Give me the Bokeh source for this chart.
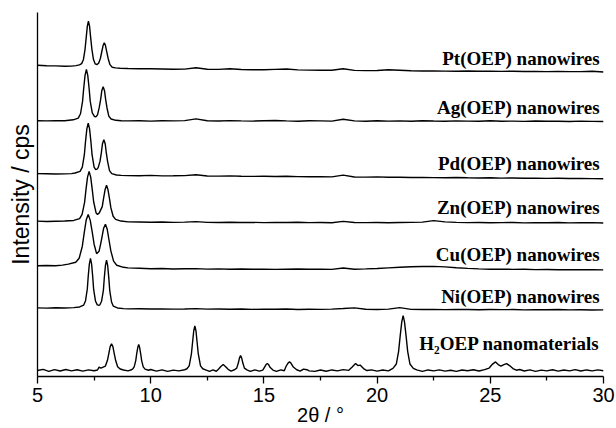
from bokeh.plotting import figure
from bokeh.models import Range1d, FixedTicker, ColumnDataSource, Label
from bokeh.embed import file_html
from bokeh.resources import INLINE

# ---------------- data ----------------
LABELS = ["Pt(OEP) nanowires", "Ag(OEP) nanowires", "Pd(OEP) nanowires",
          "Zn(OEP) nanowires", "Cu(OEP) nanowires", "Ni(OEP) nanowires",
          "H\u2082OEP nanomaterials"]

# vertical stacking offsets of each pattern (intensity units)
OFFSETS = [311, 257, 202, 156, 110, 68, 6]

# common 2θ grid for the flat part of the nanowire patterns
TAIL_X = [9.5, 10.0, 10.5, 11.0, 11.5, 12.0, 12.5, 13.0, 13.5, 14.0, 14.5,
          15.0, 15.5, 16.0, 16.5, 17.0, 17.5, 18.0, 18.5, 19.0, 19.5, 20.0,
          20.5, 21.0, 21.5, 22.0, 22.5, 23.0, 23.5, 24.0, 24.5, 25.0, 25.5,
          26.0, 26.5, 27.0, 27.5, 28.0, 28.5, 29.0, 29.5, 30.0]

PT_X = [5.0, 5.4, 5.8, 6.2, 6.5, 6.7, 6.85, 6.95, 7.03, 7.1, 7.15, 7.2, 7.25,
        7.3, 7.35, 7.4, 7.47, 7.55, 7.62, 7.7, 7.78, 7.85, 7.9, 7.95, 8.0,
        8.05, 8.12, 8.2, 8.3, 8.45, 8.65, 9.0]
PT_Y = [2.0, 1.5, 1.3, 0.9, 1.1, 1.6, 2.3, 3.6, 7.8, 18.0, 29.5, 41.0, 46.3,
        41.0, 29.5, 18.5, 8.0, 3.3, 2.6, 4.0, 9.0, 16.8, 22.0, 24.5, 22.0,
        16.5, 8.8, 2.6, 0.0, -0.7, -1.1, -1.3]
PT_TAIL = [-1.5, -1.6, -1.8, -2.0, -1.9, -0.6, -2.0, -2.2, -1.6, -2.3, -2.5,
           -2.6, -2.2, -1.8, -2.7, -2.9, -3.0, -3.0, -1.6, -3.2, -3.4, -3.3,
           -2.6, -3.0, -3.6, -3.8, -3.7, -3.9, -4.0, -3.8, -4.1, -4.0, -4.2,
           -4.1, -4.3, -4.2, -4.4, -4.3, -4.5, -4.4, -4.0, -4.8]

AG_X = [5.0, 5.4, 5.8, 6.2, 6.58, 6.8, 6.9, 6.99, 7.04, 7.1, 7.16, 7.22, 7.28,
        7.33, 7.42, 7.52, 7.58, 7.65, 7.73, 7.79, 7.84, 7.9, 7.96, 8.01, 8.07,
        8.15, 8.25, 8.46, 8.7, 9.0]
AG_Y = [0.2, 0.0, 0.3, 0.2, 1.1, 2.8, 7.2, 19.6, 32.6, 45.8, 51.7, 45.8, 32.6,
        19.6, 8.0, 4.3, 4.2, 6.1, 13.8, 21.6, 30.4, 34.3, 30.4, 21.6, 13.0,
        4.8, 1.9, 0.6, 0.2, 0.0]
AG_TAIL = [0.1, -0.2, 0.2, 0.0, 0.3, 2.0, 0.2, -0.1, 0.3, 0.0, -0.2, 0.1, 0.4,
           0.0, -0.3, 0.1, 0.0, -0.2, 1.7, 0.0, -0.3, 0.1, -0.2, 0.0, -0.4,
           0.2, -0.1, -0.3, 0.0, -0.2, -0.4, 0.1, -0.3, -0.2, -0.5, -0.1,
           -0.4, -0.3, -0.6, -0.2, -0.5, -0.6]

PD_X = [5.0, 5.4, 5.8, 6.2, 6.5, 6.66, 6.88, 6.98, 7.07, 7.12, 7.18, 7.24, 7.3,
        7.36, 7.41, 7.5, 7.57, 7.63, 7.68, 7.76, 7.82, 7.87, 7.93, 7.99, 8.04,
        8.1, 8.18, 8.28, 8.49, 8.7, 9.0]
PD_Y = [2.0, 1.8, 1.6, 1.7, 2.0, 2.6, 4.3, 8.6, 21.0, 34.0, 47.0, 52.7, 47.0,
        34.0, 21.0, 8.5, 6.0, 6.5, 8.0, 14.3, 22.9, 32.0, 36.0, 32.0, 22.7,
        13.7, 5.0, 2.0, 0.6, 0.2, 0.0]
PD_TAIL = [-0.1, 0.2, -0.3, -0.2, 0.0, 0.8, -0.4, -0.5, -0.3, -0.6, -0.8,
           -0.6, -0.9, -0.7, -1.0, -1.2, -1.1, -1.3, 0.5, -1.4, -1.5, -1.3,
           -1.7, -1.6, -1.9, -1.8, -2.0, -2.1, -1.9, -2.2, -2.4, -2.2, -2.5,
           -2.4, -2.6, -2.5, -2.8, -2.7, -2.9, -2.8, -3.0, -3.1]

ZN_X = [5.0, 5.4, 5.8, 6.2, 6.6, 6.86, 6.97, 7.08, 7.14, 7.21, 7.28, 7.35,
        7.42, 7.48, 7.59, 7.65, 7.73, 7.86, 7.92, 7.99, 8.05, 8.11, 8.18, 8.24,
        8.34, 8.45, 8.69, 9.0]
ZN_Y = [0.2, -0.2, 0.1, 0.3, 0.9, 2.8, 7.0, 19.1, 31.7, 44.5, 50.3, 44.5, 31.7,
        19.7, 8.3, 7.0, 8.5, 14.8, 23.3, 32.3, 36.3, 32.1, 22.9, 13.8, 5.1,
        2.0, 0.3, -0.5]
ZN_TAIL = [-0.7, -0.9, -0.6, -1.0, -0.8, -0.3, -1.0, -1.1, -0.9, -1.2, -1.0,
           -1.3, -1.1, -1.2, -0.9, -1.3, -1.2, -1.4, 0.0, -1.2, -1.3, -1.1,
           -1.4, -1.2, -1.0, -0.8, 0.7, -0.5, -1.0, -1.3, -1.2, -1.4, -1.3,
           -1.1, -1.5, -1.3, -1.4, -1.2, -1.5, -1.4, -1.3, -1.6]

CU_X = [5.0, 5.4, 5.8, 6.1, 6.36, 6.69, 6.84, 6.98, 7.06, 7.15, 7.24, 7.33,
        7.42, 7.5, 7.61, 7.72, 7.8, 7.92, 8.0, 8.08, 8.16, 8.24, 8.36, 8.5,
        8.8, 9.0]
CU_Y = [1.3, 1.6, 1.3, 2.0, 3.0, 4.9, 8.9, 21.0, 34.0, 47.3, 53.0, 47.0, 35.0,
        23.0, 13.5, 16.0, 24.4, 39.0, 43.0, 38.0, 27.0, 16.3, 6.0, 1.9, -0.2,
        -0.8]
CU_TAIL = [-1.2, -1.6, -1.4, -1.9, -1.7, -1.5, -2.0, -1.8, -2.1, -1.9, -2.2,
           -2.0, -2.3, -2.1, -1.9, -2.2, -2.0, -2.3, -0.9, -2.1, -1.8, -1.4,
           -0.8, -0.2, 0.3, 0.6, 0.7, 0.2, -0.6, -1.3, -1.8, -2.1, -2.0, -2.3,
           -2.2, -2.5, -2.4, -2.6, -2.5, -2.7, -2.6, -2.8]

NI_X = [5.0, 5.4, 5.8, 6.2, 6.6, 6.86, 7.04, 7.12, 7.2, 7.24, 7.29, 7.34, 7.39,
        7.44, 7.48, 7.56, 7.64, 7.69, 7.75, 7.83, 7.91, 7.95, 8.0, 8.05, 8.1,
        8.15, 8.19, 8.27, 8.35, 8.53, 8.8, 9.0]
NI_Y = [1.0, 0.8, 1.2, 0.9, 1.3, 1.9, 3.8, 8.0, 20.0, 32.5, 45.0, 50.7, 45.0,
        32.0, 19.5, 8.0, 4.0, 3.7, 3.9, 7.7, 18.6, 31.0, 43.4, 49.0, 43.4,
        30.9, 18.6, 6.9, 2.7, 0.9, 0.2, 0.0]
NI_TAIL = [0.1, -0.2, 0.0, -0.3, -0.1, 0.2, -0.3, -0.2, -0.4, -0.1, -0.5,
           -0.3, -0.4, -0.2, -0.6, -0.4, -0.5, -0.3, 0.3, 1.0, -0.4, -0.6,
           -0.3, 1.2, -0.5, -0.7, -0.6, -0.8, -0.5, -0.7, -0.9, -0.6, -0.8,
           -0.7, -1.0, -0.8, -0.9, -0.7, -1.0, -0.9, -1.1, -1.0]

H2_X = [5.0, 5.25, 5.5, 5.75, 6.0, 6.25, 6.5, 6.75, 7.0, 7.25, 7.5, 7.65, 7.72,
        7.8, 7.9, 8.0, 8.09, 8.15, 8.21, 8.27, 8.33, 8.39, 8.45, 8.54, 8.65,
        8.8, 9.0, 9.15, 9.2, 9.27, 9.34, 9.38, 9.43, 9.47, 9.51, 9.56, 9.6,
        9.67, 9.75, 9.9, 10.0, 10.25, 10.5, 10.75, 11.0, 11.25, 11.5, 11.6,
        11.7, 11.8, 11.85, 11.9, 11.95, 12.0, 12.05, 12.1, 12.2, 12.3, 12.45,
        12.6, 12.75, 12.9, 13.0, 13.1, 13.2, 13.3, 13.42, 13.55, 13.7, 13.8,
        13.87, 13.92, 13.97, 14.02, 14.07, 14.14, 14.25, 14.4, 14.6, 14.8,
        14.95, 15.03, 15.1, 15.15, 15.2, 15.28, 15.4, 15.55, 15.75, 15.9,
        15.98, 16.06, 16.13, 16.2, 16.3, 16.45, 16.6, 16.75, 16.9, 17.0,
        17.25, 17.5, 17.75, 18.0, 18.25, 18.5, 18.75, 18.9, 19.05, 19.15,
        19.25, 19.4, 19.55, 19.75, 20.0, 20.25, 20.5, 20.7, 20.85, 20.95,
        21.02, 21.09, 21.15, 21.21, 21.28, 21.35, 21.45, 21.6, 21.75, 22.0,
        22.25, 22.5, 22.75, 23.0, 23.25, 23.5, 23.75, 24.0, 24.25, 24.5,
        24.75, 24.95, 25.1, 25.23, 25.35, 25.47, 25.6, 25.72, 25.85, 26.0,
        26.15, 26.3, 26.5, 26.75, 27.0, 27.25, 27.5, 27.75, 28.0, 28.25, 28.5,
        28.75, 29.0, 29.25, 29.5, 29.75, 30.0]
H2_Y = [0.0, 1.2, -0.8, 0.9, -0.5, 1.0, -0.3, 0.8, -0.6, 0.7, -0.2, 0.5, 3.5,
        2.5, 3.5, 4.5, 10.3, 17.0, 24.0, 27.0, 24.0, 17.0, 10.3, 3.8, 1.5,
        0.5, -0.4, 0.8, 1.4, 3.7, 10.0, 16.6, 23.3, 26.3, 23.3, 16.6, 10.0,
        3.7, 1.4, 0.3, 1.0, -0.6, 0.6, -0.9, 0.4, -0.4, 0.8, 1.8, 4.7, 17.1,
        28.4, 39.8, 45.0, 39.8, 28.4, 17.1, 4.7, 1.8, 0.5, -0.9, 0.6, -0.7,
        1.5, 4.0, 6.0, 4.0, 1.2, -0.5, 0.8, 2.4, 7.5, 12.5, 15.0, 12.5, 7.5,
        2.4, 0.6, -0.8, 0.7, -0.6, 0.4, 3.5, 6.1, 7.0, 6.1, 3.0, 0.5, -0.8,
        0.6, -0.2, 4.3, 7.3, 8.7, 7.3, 3.5, 0.8, -0.5, 1.4, 0.8, -0.3, -0.9,
        0.5, -0.7, 0.6, -0.4, 0.9, 0.2, 3.5, 7.0, 5.0, 5.5, 2.0, 0.0, 0.7,
        -0.6, 0.5, -0.3, 2.2, 6.6, 19.3, 34.8, 49.0, 55.3, 49.0, 34.8, 19.3,
        6.6, 2.2, 0.6, -0.8, 0.6, -0.4, 0.7, -0.6, 0.3, -0.9, 0.5, -0.2, 0.8,
        -0.5, 0.9, 2.5, 6.5, 8.7, 6.0, 4.5, 6.0, 7.0, 5.0, 2.0, 0.3, 1.0,
        -0.5, 0.6, -0.8, 0.4, -0.3, 0.8, -0.6, 0.5, -0.4, 0.9, -0.5, 0.6,
        -0.3, 0.7, -0.2]

SERIES_X = [PT_X + TAIL_X, AG_X + TAIL_X, PD_X + TAIL_X, ZN_X + TAIL_X,
            CU_X + TAIL_X, NI_X + TAIL_X, H2_X]
SERIES_Y = [PT_Y + PT_TAIL, AG_Y + AG_TAIL, PD_Y + PD_TAIL, ZN_Y + ZN_TAIL,
            CU_Y + CU_TAIL, NI_Y + NI_TAIL, H2_Y]

# label baselines (intensity units)
LABEL_Y = [320, 270, 214, 170, 123, 80, 33]

X_TICKS = [5, 10, 15, 20, 25, 30]
X_MINOR = [7.5, 12.5, 17.5, 22.5, 27.5]

# ---------------- figure ----------------
p = figure(width=616, height=428, output_backend="svg", toolbar_location=None,
           x_range=Range1d(5, 30), y_range=Range1d(0, 366),
           min_border_left=37, min_border_right=13, min_border_top=12,
           min_border_bottom=50)
p.outline_line_color = None
p.grid.visible = False
p.background_fill_color = "white"
p.border_fill_color = "white"

ax = p.xaxis[0]
ax.ticker = FixedTicker(ticks=X_TICKS, minor_ticks=X_MINOR)
ax.axis_line_width = 1.3
ax.axis_line_color = "black"
ax.major_tick_in = 0
ax.major_tick_out = 7
ax.minor_tick_in = 0
ax.minor_tick_out = 4
ax.major_tick_line_width = 1.3
ax.minor_tick_line_width = 1.3
ax.major_label_text_font = "Liberation Sans"
ax.major_label_text_font_size = "20px"
ax.major_label_text_color = "black"
ax.major_label_standoff = 4
ax.axis_label = "2\u03b8 / \u00b0"
ax.axis_label_text_font = "Liberation Sans"
ax.axis_label_text_font_size = "20px"
ax.axis_label_text_font_style = "normal"
ax.axis_label_text_color = "black"
ax.axis_label_standoff = -1

ay = p.yaxis[0]
ay.ticker = FixedTicker(ticks=[])
ay.axis_line_width = 1.3
ay.axis_line_color = "black"
ay.major_tick_in = 0
ay.major_tick_out = 0
ay.minor_tick_in = 0
ay.minor_tick_out = 0
ay.major_label_standoff = 0
ay.axis_label = "Intensity / cps"
ay.axis_label_text_font = "Liberation Sans"
ay.axis_label_text_font_size = "23px"
ay.axis_label_text_font_style = "normal"
ay.axis_label_text_color = "black"
ay.axis_label_standoff = 4

for xs, ys, off in zip(SERIES_X, SERIES_Y, OFFSETS):
    src = ColumnDataSource(dict(x=xs, y=[off + v for v in ys]))
    p.line("x", "y", source=src, line_color="black", line_width=1.4)

for txt, ly in zip(LABELS, LABEL_Y):
    p.add_layout(Label(x=29.83, y=ly, text=txt, text_align="right",
                       text_baseline="alphabetic",
                       text_font="Liberation Serif", text_font_style="bold",
                       text_font_size="19px", text_color="black"))

open("out.html", "w").write(file_html(p, INLINE))
